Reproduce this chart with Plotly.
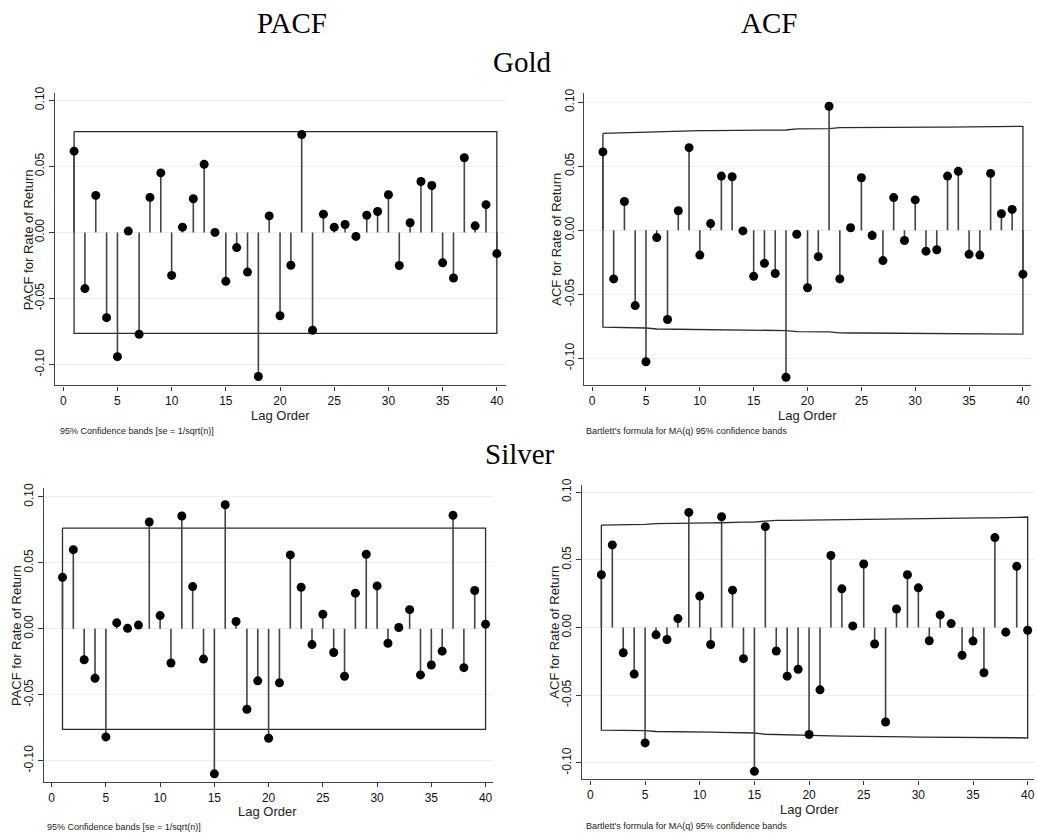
import plotly.graph_objects as go

lags = list(range(1, 41))

gold_pacf = [0.0615, -0.0425, 0.028, -0.0645, -0.094, 0.001, -0.077, 0.0265, 0.045, -0.0325,
             0.004, 0.0255, 0.0515, 0.000, -0.037, -0.0115, -0.030, -0.109, 0.0125, -0.063,
             -0.0248, 0.074, -0.074, 0.0138, 0.004, 0.006, -0.003, 0.013, 0.0158, 0.0285,
             -0.025, 0.0073, 0.0385, 0.0355, -0.023, -0.0345, 0.0565, 0.005, 0.021, -0.016]

gold_acf = [0.0612, -0.038, 0.0225, -0.0588, -0.1027, -0.0057, -0.0697, 0.0152, 0.0645, -0.0194,
            0.0052, 0.0423, 0.0418, -0.0005, -0.036, -0.0258, -0.0338, -0.1148, -0.0031, -0.0449,
            -0.0206, 0.0968, -0.038, 0.002, 0.041, -0.0041, -0.0237, 0.0255, -0.008, 0.0237,
            -0.0163, -0.0152, 0.0423, 0.046, -0.0188, -0.0194, 0.0444, 0.0129, 0.0163, -0.0343]

gold_acf_band = [0.0756, 0.0759, 0.0760, 0.0760, 0.0763, 0.0771, 0.0771, 0.0774, 0.0775, 0.0778,
                 0.0778, 0.0778, 0.0779, 0.0781, 0.0781, 0.0781, 0.0782, 0.0783, 0.0792, 0.0792,
                 0.0794, 0.0794, 0.0801, 0.0802, 0.0802, 0.0803, 0.0803, 0.0803, 0.0804, 0.0804,
                 0.0804, 0.0805, 0.0805, 0.0806, 0.0807, 0.0808, 0.0808, 0.0809, 0.0810, 0.0811]

silver_pacf = [0.039, 0.060, -0.0235, -0.0375, -0.082, 0.0045, 0.0003, 0.0028, 0.081, 0.010,
               -0.026, 0.0855, 0.032, -0.023, -0.110, 0.094, 0.0055, -0.061, -0.0395, -0.083,
               -0.041, 0.056, 0.0315, -0.012, 0.011, -0.018, -0.036, 0.027, 0.0565, 0.0325,
               -0.011, 0.001, 0.0145, -0.035, -0.0275, -0.017, 0.086, -0.0295, 0.029, 0.0035]

silver_acf = [0.039, 0.061, -0.0186, -0.0344, -0.0852, -0.0054, -0.0088, 0.0066, 0.085, 0.0232,
              -0.0125, 0.0818, 0.0276, -0.023, -0.1062, 0.0745, -0.0173, -0.0359, -0.0308, -0.079,
              -0.046, 0.0532, 0.0286, 0.0012, 0.0469, -0.0122, -0.0698, 0.0137, 0.039, 0.0293,
              -0.0098, 0.0093, 0.0029, -0.0205, -0.01, -0.0334, 0.0664, -0.0034, 0.0452, -0.002]

silver_acf_band = [0.0757, 0.0758, 0.0761, 0.0761, 0.0762, 0.0768, 0.0768, 0.0768, 0.0768, 0.0773,
                   0.0773, 0.0774, 0.0778, 0.0779, 0.0779, 0.0788, 0.0792, 0.0792, 0.0793, 0.0794,
                   0.0798, 0.0800, 0.0802, 0.0802, 0.0802, 0.0804, 0.0804, 0.0807, 0.0807, 0.0809,
                   0.0809, 0.0809, 0.0809, 0.0809, 0.0810, 0.0810, 0.0810, 0.0814, 0.0814, 0.0816]

pacf_band = 0.0763

xtick_vals = [0, 5, 10, 15, 20, 25, 30, 35, 40]
ytick_vals = [0.10, 0.05, 0.00, -0.05, -0.10]
ytick_text = ["0.10", "0.05", "0.00", "-0.05", "-0.10"]

W, H = 1037, 833

panels = [
    dict(vals=gold_pacf, band=[pacf_band] * len(lags), box=(55, 506, 86.7, 381.7),
         xr=[-0.765, 40.8], yr=[-0.1158, 0.1055],
         ytitle="PACF for Rate of Return", foot="95% Confidence bands [se = 1/sqrt(n)]",
         ytx=28, foot_x=58, foot_y=428, lag_x=281, lag_y=412),
    dict(vals=gold_acf, band=gold_acf_band, box=(585, 1032, 86.7, 381.7),
         xr=[-0.714, 40.75], yr=[-0.1212, 0.1072],
         ytitle="ACF for Rate of Return", foot="Bartlett's formula for MA(q) 95% confidence bands",
         ytx=557, foot_x=585, foot_y=428, lag_x=808, lag_y=412),
    dict(vals=silver_pacf, band=[pacf_band] * len(lags), box=(44.3, 493, 485, 781.7),
         xr=[-0.68, 40.64], yr=[-0.1163, 0.1068],
         ytitle="PACF for Rate of Return", foot="95% Confidence bands [se = 1/sqrt(n)]",
         ytx=16, foot_x=45, foot_y=827, lag_x=268, lag_y=811),
    dict(vals=silver_acf, band=silver_acf_band, box=(582.7, 1035, 482, 779),
         xr=[-0.76, 40.58], yr=[-0.1122, 0.1053],
         ytitle="ACF for Rate of Return", foot="Bartlett's formula for MA(q) 95% confidence bands",
         ytx=555, foot_x=585, foot_y=826, lag_x=810, lag_y=809),
]

fig = go.Figure()
annotations = []
layout_axes = {}

sans = "Liberation Sans, Arial, sans-serif"
serif = "Liberation Serif, Times New Roman, serif"

for i, p in enumerate(panels, start=1):
    xa = "x" if i == 1 else f"x{i}"
    ya = "y" if i == 1 else f"y{i}"
    l, r, t, b = p["box"]

    bx = lags + lags[::-1] + [lags[0]]
    by = p["band"] + [-v for v in p["band"][::-1]] + [p["band"][0]]
    fig.add_trace(go.Scatter(x=bx, y=by, mode="lines", xaxis=xa, yaxis=ya,
                             line=dict(color="#2b2b2b", width=1.3), hoverinfo="skip"))

    sx, sy = [], []
    for lag, v in zip(lags, p["vals"]):
        sx += [lag, lag, None]
        sy += [0, v, None]
    fig.add_trace(go.Scatter(x=sx, y=sy, mode="lines", xaxis=xa, yaxis=ya,
                             line=dict(color="#444444", width=1.6), hoverinfo="skip"))
    fig.add_trace(go.Scatter(x=lags, y=p["vals"], mode="markers", xaxis=xa, yaxis=ya,
                             marker=dict(color="black", size=9)))

    xkey = "xaxis" if i == 1 else f"xaxis{i}"
    ykey = "yaxis" if i == 1 else f"yaxis{i}"
    layout_axes[xkey] = dict(
        domain=[l / W, r / W], range=p["xr"], anchor=ya,
        tickvals=xtick_vals, ticks="outside", ticklen=4, tickcolor="#333",
        showline=True, linecolor="#444", linewidth=1.2, showgrid=False, zeroline=False,
        tickfont=dict(family=sans, size=12, color="#111"),
    )
    layout_axes[ykey] = dict(
        domain=[1 - b / H, 1 - t / H], range=p["yr"], anchor=xa,
        tickvals=ytick_vals, ticktext=ytick_text, tickangle=-90,
        ticks="outside", ticklen=5, tickcolor="#333",
        showline=True, linecolor="#444", linewidth=1.2,
        showgrid=True, gridcolor="#e8f0f1", gridwidth=1, zeroline=False,
        tickfont=dict(family=sans, size=12, color="#111"),
    )

    annotations.append(dict(text=p["ytitle"], x=p["ytx"] / W, y=1 - ((t + b) / 2) / H,
                            xref="paper", yref="paper", showarrow=False, textangle=-90,
                            xanchor="center", yanchor="middle",
                            font=dict(family=sans, size=13, color="#222")))
    annotations.append(dict(text="Lag Order", x=p["lag_x"] / W, y=1 - p["lag_y"] / H,
                            xref="paper", yref="paper", showarrow=False,
                            xanchor="center", yanchor="middle",
                            font=dict(family=sans, size=13, color="#222")))
    annotations.append(dict(text=p["foot"], x=p["foot_x"] / W, y=1 - p["foot_y"] / H,
                            xref="paper", yref="paper", showarrow=False,
                            xanchor="left", yanchor="middle",
                            font=dict(family=sans, size=9, color="#222")))

for txt, px, py in [("PACF", 292, 16), ("ACF", 770, 16), ("Gold", 523, 55), ("Silver", 521, 451)]:
    annotations.append(dict(text=txt, x=px / W, y=1 - py / H, xref="paper", yref="paper",
                            showarrow=False, xanchor="center", yanchor="middle",
                            font=dict(family=serif, size=29, color="black")))

fig.update_layout(
    width=W, height=H, margin=dict(l=0, r=0, t=0, b=0),
    paper_bgcolor="white", plot_bgcolor="white", showlegend=False,
    annotations=annotations, **layout_axes,
)

fig.write_html("out.html")
